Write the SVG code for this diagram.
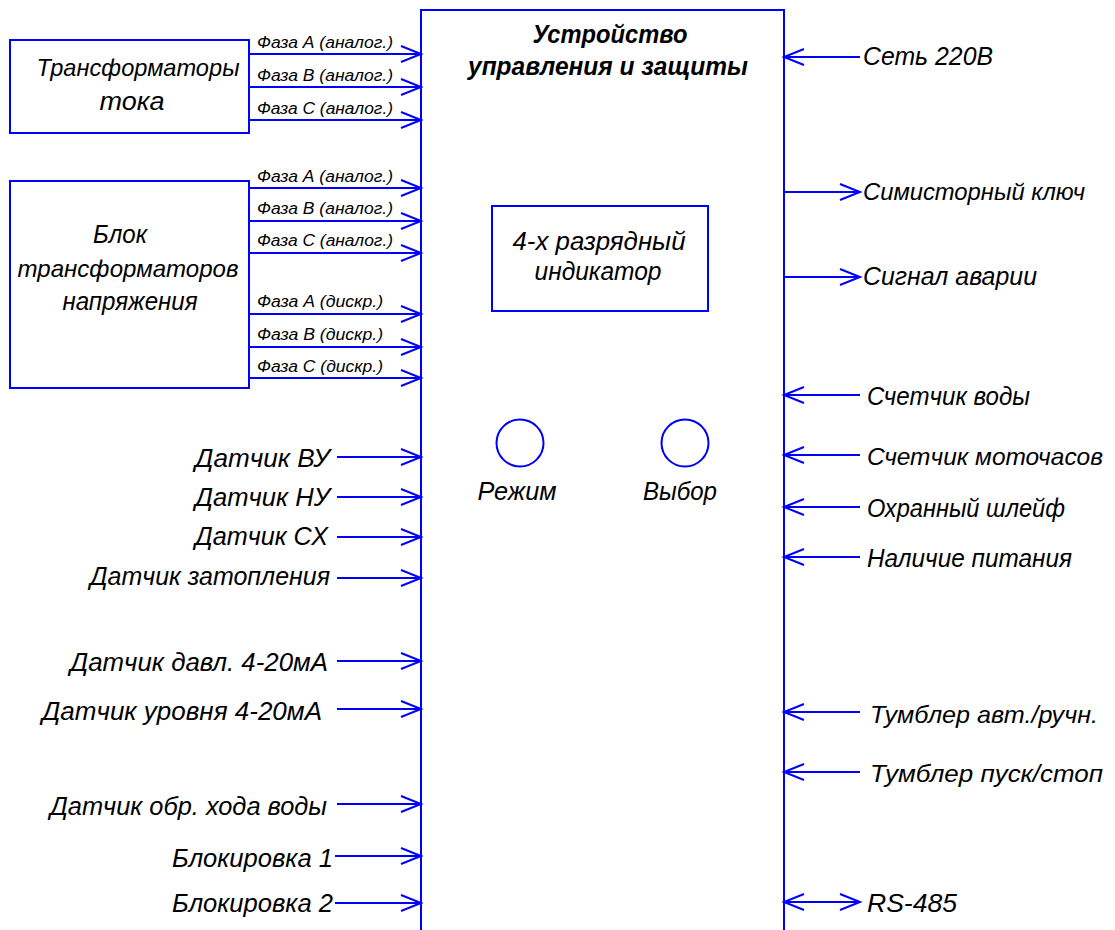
<svg xmlns="http://www.w3.org/2000/svg" width="1115" height="930" viewBox="0 0 1115 930">
<style>
.b{fill:none;stroke:#0000FF;stroke-width:2}
.w{fill:#FFFFFF;stroke:#0000FF;stroke-width:2}
.c{fill:none;stroke:#0000FF;stroke-width:2}
.ar{marker-end:url(#ah)}
.t{font-family:"Liberation Sans",Arial,sans-serif;font-style:italic;fill:#000000;font-size:26px}
.n{font-size:24px}
.s{font-family:"Liberation Sans",Arial,sans-serif;font-style:italic;fill:#000000;font-size:16px}
.h{font-weight:bold}
</style>
<defs>
<marker id="ah" markerUnits="userSpaceOnUse" markerWidth="24" markerHeight="20" viewBox="0 0 24 20" refX="21" refY="10" orient="auto-start-reverse">
<path d="M1,2 L21,10 L1,18" fill="none" stroke="#0000FF" stroke-width="2"/>
</marker>
</defs>
<rect width="1115" height="930" fill="#FFFFFF"/>

<g id="connectors">
<line class="c ar" x1="249" y1="54" x2="421" y2="54"/>
<line class="c ar" x1="249" y1="87" x2="421" y2="87"/>
<line class="c ar" x1="249" y1="120" x2="421" y2="120"/>
<line class="c ar" x1="249" y1="188" x2="421" y2="188"/>
<line class="c ar" x1="249" y1="221" x2="421" y2="221"/>
<line class="c ar" x1="249" y1="253" x2="421" y2="253"/>
<line class="c ar" x1="249" y1="314" x2="421" y2="314"/>
<line class="c ar" x1="249" y1="347" x2="421" y2="347"/>
<line class="c ar" x1="249" y1="378" x2="421" y2="378"/>
<line class="c ar" x1="337" y1="457" x2="421" y2="457"/>
<line class="c ar" x1="337" y1="497" x2="421" y2="497"/>
<line class="c ar" x1="337" y1="537" x2="421" y2="537"/>
<line class="c ar" x1="337" y1="578" x2="421" y2="578"/>
<line class="c ar" x1="337" y1="661" x2="421" y2="661"/>
<line class="c ar" x1="337" y1="709" x2="421" y2="709"/>
<line class="c ar" x1="337" y1="804" x2="421" y2="804"/>
<line class="c ar" x1="335" y1="856" x2="421" y2="856"/>
<line class="c ar" x1="335" y1="903" x2="421" y2="903"/>
<line class="c ar" x1="860" y1="57" x2="784" y2="57"/>
<line class="c ar" x1="784" y1="192" x2="860" y2="192"/>
<line class="c ar" x1="784" y1="277" x2="860" y2="277"/>
<line class="c ar" x1="860" y1="395" x2="784" y2="395"/>
<line class="c ar" x1="860" y1="455" x2="784" y2="455"/>
<line class="c ar" x1="860" y1="507" x2="784" y2="507"/>
<line class="c ar" x1="860" y1="557" x2="784" y2="557"/>
<line class="c ar" x1="860" y1="712" x2="784" y2="712"/>
<line class="c ar" x1="860" y1="772" x2="784" y2="772"/>
<line class="c ar" x1="784" y1="902" x2="860" y2="902" marker-start="url(#ah)"/>
</g>

<g id="main-device">
<path class="b" d="M421,931 L421,10 L784,10 L784,931"/>
<text class="t h" x="610" y="43" text-anchor="middle" textLength="155" lengthAdjust="spacingAndGlyphs">Устройство</text>
<text class="t h" x="608" y="75" text-anchor="middle" textLength="280" lengthAdjust="spacingAndGlyphs">управления и защиты</text>
</g>

<g id="indicator">
<rect class="w" x="492" y="206" width="216" height="105"/>
<text class="t" x="599" y="250" text-anchor="middle" textLength="173" lengthAdjust="spacingAndGlyphs">4-х разрядный</text>
<text class="t" x="598" y="280" text-anchor="middle" textLength="127" lengthAdjust="spacingAndGlyphs">индикатор</text>
</g>

<g id="btn-mode">
<circle class="b" cx="520" cy="443" r="23.5"/>
<text class="t" x="517" y="500" text-anchor="middle" textLength="79" lengthAdjust="spacingAndGlyphs">Режим</text>
</g>
<g id="btn-select">
<circle class="b" cx="685" cy="443" r="23.5"/>
<text class="t" x="680" y="500" text-anchor="middle" textLength="74" lengthAdjust="spacingAndGlyphs">Выбор</text>
</g>

<g id="current-transformers">
<rect class="w" x="10" y="40" width="239" height="93"/>
<text class="t n" x="138" y="76" text-anchor="middle" textLength="203" lengthAdjust="spacingAndGlyphs">Трансформаторы</text>
<text class="t" x="132" y="110" text-anchor="middle" textLength="65" lengthAdjust="spacingAndGlyphs">тока</text>
<text class="s" x="257" y="48" textLength="136" lengthAdjust="spacingAndGlyphs">Фаза А (аналог.)</text>
<text class="s" x="257" y="81" textLength="136" lengthAdjust="spacingAndGlyphs">Фаза В (аналог.)</text>
<text class="s" x="257" y="114" textLength="136" lengthAdjust="spacingAndGlyphs">Фаза С (аналог.)</text>
</g>

<g id="voltage-transformers">
<rect class="w" x="10" y="181" width="239" height="207"/>
<text class="t" x="120" y="243" text-anchor="middle" textLength="54" lengthAdjust="spacingAndGlyphs">Блок</text>
<text class="t n" x="128" y="277" text-anchor="middle" textLength="221" lengthAdjust="spacingAndGlyphs">трансформаторов</text>
<text class="t" x="130" y="310" text-anchor="middle" textLength="135" lengthAdjust="spacingAndGlyphs">напряжения</text>
<text class="s" x="257" y="182" textLength="136" lengthAdjust="spacingAndGlyphs">Фаза А (аналог.)</text>
<text class="s" x="257" y="214" textLength="136" lengthAdjust="spacingAndGlyphs">Фаза В (аналог.)</text>
<text class="s" x="257" y="246" textLength="136" lengthAdjust="spacingAndGlyphs">Фаза С (аналог.)</text>
<text class="s" x="257" y="307" textLength="126" lengthAdjust="spacingAndGlyphs">Фаза А (дискр.)</text>
<text class="s" x="257" y="340" textLength="126" lengthAdjust="spacingAndGlyphs">Фаза В (дискр.)</text>
<text class="s" x="257" y="372" textLength="126" lengthAdjust="spacingAndGlyphs">Фаза С (дискр.)</text>
</g>

<g id="left-inputs">
<g id="sensor-vu"><text class="t" x="330" y="467" text-anchor="end" textLength="135" lengthAdjust="spacingAndGlyphs">Датчик ВУ</text></g>
<g id="sensor-nu"><text class="t" x="330" y="506" text-anchor="end" textLength="135" lengthAdjust="spacingAndGlyphs">Датчик НУ</text></g>
<g id="sensor-sx"><text class="t" x="328" y="545" text-anchor="end" textLength="133" lengthAdjust="spacingAndGlyphs">Датчик СХ</text></g>
<g id="sensor-flood"><text class="t" x="330" y="585" text-anchor="end" textLength="240" lengthAdjust="spacingAndGlyphs">Датчик затопления</text></g>
<g id="sensor-pressure"><text class="t" x="328" y="671" text-anchor="end" textLength="258" lengthAdjust="spacingAndGlyphs">Датчик давл. 4-20мА</text></g>
<g id="sensor-level"><text class="t" x="322" y="720" text-anchor="end" textLength="280" lengthAdjust="spacingAndGlyphs">Датчик уровня 4-20мА</text></g>
<g id="sensor-backflow"><text class="t" x="327" y="815" text-anchor="end" textLength="277" lengthAdjust="spacingAndGlyphs">Датчик обр. хода воды</text></g>
<g id="lock-1"><text class="t" x="333" y="867" text-anchor="end" textLength="161" lengthAdjust="spacingAndGlyphs">Блокировка 1</text></g>
<g id="lock-2"><text class="t" x="333" y="912" text-anchor="end" textLength="161" lengthAdjust="spacingAndGlyphs">Блокировка 2</text></g>
</g>

<g id="right-io">
<g id="mains"><text class="t" x="863" y="65" textLength="130" lengthAdjust="spacingAndGlyphs">Сеть 220В</text></g>
<g id="triac-key"><text class="t n" x="863" y="200" textLength="222" lengthAdjust="spacingAndGlyphs">Симисторный ключ</text></g>
<g id="alarm"><text class="t" x="863" y="285" textLength="174" lengthAdjust="spacingAndGlyphs">Сигнал аварии</text></g>
<g id="water-meter"><text class="t" x="867" y="405" textLength="163" lengthAdjust="spacingAndGlyphs">Счетчик воды</text></g>
<g id="hour-meter"><text class="t n" x="867" y="465" textLength="236" lengthAdjust="spacingAndGlyphs">Счетчик моточасов</text></g>
<g id="security-loop"><text class="t" x="867" y="517" textLength="198" lengthAdjust="spacingAndGlyphs">Охранный шлейф</text></g>
<g id="power-present"><text class="t" x="867" y="567" textLength="205" lengthAdjust="spacingAndGlyphs">Наличие питания</text></g>
<g id="switch-mode"><text class="t n" x="870" y="723" textLength="228" lengthAdjust="spacingAndGlyphs">Тумблер авт./ручн.</text></g>
<g id="switch-start"><text class="t n" x="870" y="782" textLength="233" lengthAdjust="spacingAndGlyphs">Тумблер пуск/стоп</text></g>
<g id="rs485"><text class="t" x="867" y="912" textLength="90" lengthAdjust="spacingAndGlyphs">RS-485</text></g>
</g>
</svg>
